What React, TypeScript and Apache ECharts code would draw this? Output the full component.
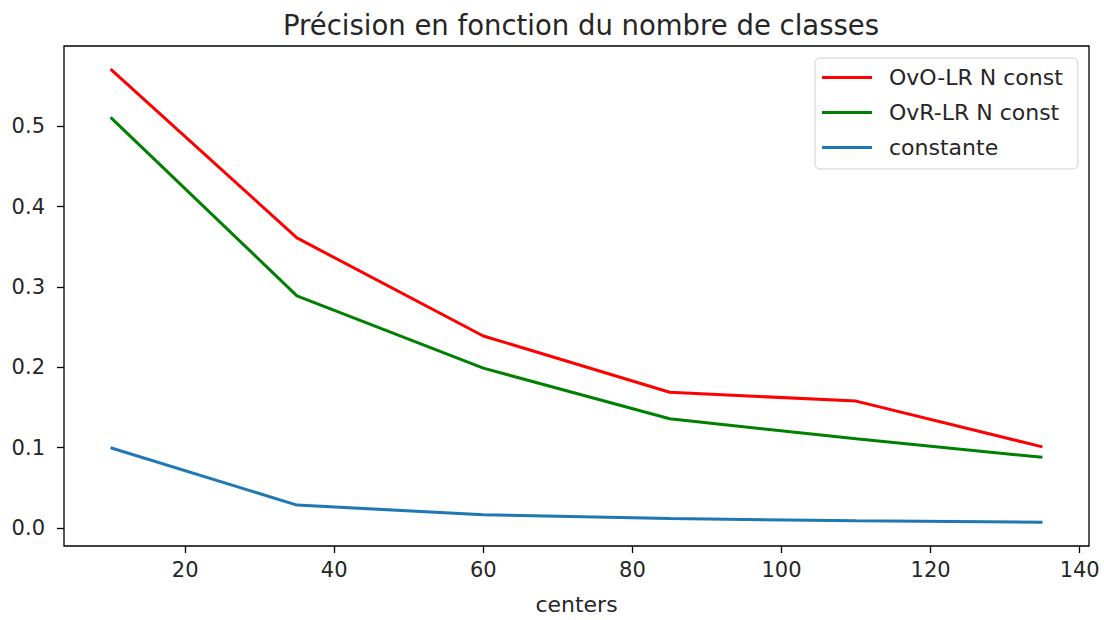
import React, { useEffect, useRef } from "react";
import * as echarts from "echarts";

const centers = [10, 35, 60, 85, 110, 135];
const ovoLR = [0.571, 0.361, 0.239, 0.169, 0.158, 0.101];
const ovrLR = [0.511, 0.289, 0.199, 0.136, 0.111, 0.088];
const constante = [0.1, 0.0286, 0.0167, 0.0118, 0.0091, 0.0074];
const xTicks = [20, 40, 60, 80, 100, 120, 140];
const yTicks = [0, 0.1, 0.2, 0.3, 0.4, 0.5];
const seriesNames = ["OvO-LR N const", "OvR-LR N const", "constante"];

const FONT = "DejaVu Sans";
const TXT = "#262626";

export default function App() {
  const ref = useRef<HTMLDivElement>(null);
  useEffect(() => {
    if (!ref.current) return;
    const chart = echarts.init(ref.current, undefined, { renderer: "svg" });
    const mk = (name: string, ys: number[], color: string) => ({
      name,
      type: "line",
      data: centers.map((x, i) => [x, ys[i]]),
      showSymbol: false,
      symbol: "none",
      lineStyle: { color, width: 3 },
      itemStyle: { color },
      z: 3,
    });
    chart.setOption({
      animation: false,
      textStyle: { fontFamily: FONT },
      title: {
        text: "Précision en fonction du nombre de classes",
        left: 576,
        textAlign: "center",
        top: 6,
        textStyle: { fontFamily: FONT, fontSize: 27.5, fontWeight: "normal", color: TXT },
      },
      legend: {
        orient: "vertical",
        left: 815,
        top: 58,
        padding: [8, 15, 10, 7],
        itemGap: 12,
        itemWidth: 50,
        itemHeight: 3,
        icon: "rect",
        backgroundColor: "rgba(255,255,255,0.8)",
        borderColor: "#d0d0d0",
        borderWidth: 1,
        borderRadius: 5,
        data: seriesNames,
        textStyle: { fontFamily: FONT, fontSize: 22, color: TXT, lineHeight: 23, padding: [0, 0, 0, 12] },
      },
      grid: {
        left: 64,
        right: 15,
        top: 46,
        bottom: 72,
        show: true,
        borderColor: "#000",
        borderWidth: 1.3,
        backgroundColor: "#fff",
      },
      xAxis: {
        type: "value",
        min: 3.75,
        max: 141.25,
        name: "centers",
        nameLocation: "middle",
        nameGap: 47,
        nameTextStyle: { fontFamily: FONT, fontSize: 22, color: TXT },
        axisLine: { show: false, onZero: false },
        splitLine: { show: false },
        axisTick: { show: true, length: 7, lineStyle: { color: "#000", width: 1.3 }, customValues: xTicks },
        axisLabel: { fontFamily: FONT, fontSize: 21, color: TXT, margin: 13, customValues: xTicks },
      },
      yAxis: {
        type: "value",
        min: -0.0223,
        max: 0.5998,
        axisLine: { show: false, onZero: false },
        splitLine: { show: false },
        axisTick: { show: true, length: 7, lineStyle: { color: "#000", width: 1.3 }, customValues: yTicks },
        axisLabel: {
          fontFamily: FONT,
          fontSize: 21,
          color: TXT,
          margin: 19,
          customValues: yTicks,
          formatter: (v: number) => v.toFixed(1),
        },
      },
      series: [
        mk(seriesNames[0], ovoLR, "#ff0000"),
        mk(seriesNames[1], ovrLR, "#008000"),
        mk(seriesNames[2], constante, "#1f77b4"),
      ],
    });
    return () => chart.dispose();
  }, []);
  return (
    <div
      ref={ref}
      style={{ position: "absolute", left: 0, top: 0, width: 1104, height: 620, background: "#fff" }}
    />
  );
}
